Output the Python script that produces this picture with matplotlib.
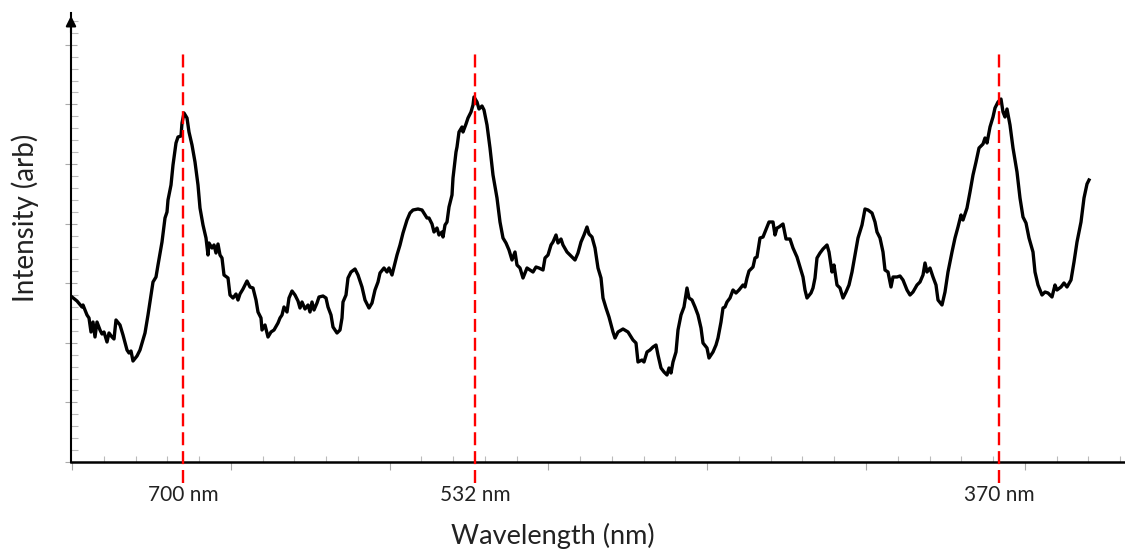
import matplotlib
matplotlib.use('Agg')
from matplotlib import pyplot as plt
from matplotlib.ticker import MultipleLocator, NullFormatter

plt.rcParams['font.family'] = ['Lato', 'DejaVu Sans']

# spectrum (channel position, intensity in arb counts)
channel = [0, 5, 10, 11, 15, 17, 19, 21, 23, 25, 28, 30, 32, 35, 37, 40, 42, 44, 48, 51,
           55, 57, 59, 61, 65, 68, 73, 76, 78, 81, 84, 86, 90, 93, 95, 96, 99, 101, 104, 106,
           109, 110, 112, 115, 117, 120, 123, 126, 128, 131, 134, 136, 137, 140, 142, 144, 146, 148, 150, 152,
           156, 158, 161, 164, 166, 168, 171, 175, 178, 181, 184, 186, 189, 190, 193, 196, 199, 202, 206, 208,
           210, 212, 215, 217, 220, 223, 226, 228, 230, 233, 236, 238, 240, 242, 245, 247, 251, 254, 256, 259,
           261, 265, 268, 270, 271, 274, 276, 279, 283, 286, 290, 293, 297, 300, 303, 306, 308, 312, 315, 317,
           320, 322, 325, 328, 331, 335, 338, 341, 346, 350, 355, 357, 360, 362, 365, 367, 370, 371, 373, 375,
           377, 380, 381, 384, 385, 387, 390, 391, 394, 396, 399, 401, 402, 405, 407, 410, 412, 415, 418, 421,
           425, 428, 431, 434, 437, 440, 443, 445, 448, 451, 455, 458, 461, 464, 467, 471, 473, 476, 479, 481,
           484, 486, 489, 491, 495, 500, 503, 506, 509, 512, 515, 517, 520, 523, 526, 529, 531, 534, 537, 541,
           543, 546, 551, 556, 561, 564, 566, 570, 572, 575, 578, 581, 584, 586, 589, 592, 595, 597, 599, 601,
           604, 606, 609, 612, 615, 617, 620, 623, 626, 629, 631, 635, 637, 641, 644, 646, 649, 651, 653, 655,
           658, 661, 664, 667, 671, 673, 675, 677, 681, 683, 685, 688, 691, 695, 697, 701, 703, 705, 707, 711,
           714, 718, 721, 725, 728, 731, 733, 735, 739, 741, 743, 745, 748, 751, 755, 757, 760, 762, 765, 768,
           771, 774, 777, 780, 783, 786, 790, 793, 796, 800, 803, 805, 808, 811, 813, 816, 819, 821, 825, 828,
           831, 835, 838, 841, 845, 848, 851, 853, 855, 858, 861, 864, 866, 870, 873, 876, 880, 883, 886, 889,
           891, 895, 898, 901, 904, 907, 911, 913, 915, 918, 921, 923, 926, 929, 931, 933, 935, 938, 941, 945,
           948, 951, 954, 957, 961, 963, 966, 970, 973, 976, 980, 983, 985, 989, 992, 995, 999, 1002, 1005, 1009,
           1012, 1015, 1017]
intensity = [165, 161, 155, 157, 147, 144, 130, 140, 125, 140, 132, 128, 130, 120, 129, 125, 123, 142, 137, 127,
             112, 109, 111, 101, 106, 112, 129, 147, 160, 180, 185, 197, 220, 244, 250, 262, 277, 297, 319, 325,
             326, 339, 349, 344, 330, 317, 300, 277, 254, 237, 224, 207, 219, 214, 217, 209, 218, 207, 204, 187,
             184, 167, 164, 168, 162, 168, 173, 181, 175, 174, 162, 150, 144, 132, 137, 125, 130, 132, 139, 144,
             147, 155, 150, 164, 171, 167, 161, 154, 160, 153, 157, 150, 160, 152, 159, 165, 166, 164, 155, 147,
             135, 129, 132, 144, 160, 167, 184, 190, 193, 187, 175, 162, 154, 159, 172, 180, 189, 194, 190, 194,
             187, 195, 207, 217, 229, 242, 249, 252, 253, 252, 244, 244, 238, 230, 234, 227, 230, 225, 237, 240,
             255, 267, 284, 310, 315, 330, 335, 330, 338, 344, 350, 357, 365, 360, 353, 356, 352, 337, 314, 287,
             264, 240, 224, 219, 212, 202, 210, 197, 194, 184, 194, 192, 190, 195, 194, 192, 204, 207, 217, 220,
             227, 219, 223, 217, 210, 205, 202, 209, 220, 227, 235, 228, 225, 214, 194, 184, 164, 154, 145, 130,
             124, 130, 133, 130, 122, 119, 100, 102, 100, 110, 112, 115, 117, 107, 94, 90, 87, 94, 89, 100,
             110, 132, 147, 155, 174, 164, 162, 155, 147, 134, 119, 114, 104, 110, 117, 124, 140, 154, 155, 160,
             164, 172, 169, 172, 177, 175, 184, 191, 195, 204, 205, 224, 225, 235, 240, 240, 227, 234, 235, 238,
             223, 223, 214, 205, 195, 185, 172, 164, 169, 174, 184, 204, 209, 213, 217, 210, 190, 197, 177, 174,
             164, 170, 177, 190, 207, 224, 237, 253, 252, 249, 240, 230, 224, 210, 192, 190, 175, 185, 185, 186,
             182, 172, 167, 170, 177, 180, 187, 199, 190, 194, 185, 177, 162, 157, 170, 190, 210, 224, 235, 247,
             242, 254, 270, 287, 300, 314, 318, 324, 319, 335, 345, 354, 360, 363, 350, 345, 353, 337, 314, 290,
             264, 245, 239, 224, 210, 190, 177, 167, 170, 169, 165, 177, 172, 175, 179, 175, 182, 200, 220, 240,
             264, 278, 282]

# laser lines marked on the trace
line_pos = [111, 403, 927]
line_labels = ['700 nm', '532 nm', '370 nm']

fig = plt.figure(figsize=(11.25, 5.53), dpi=100)
ax = fig.add_axes([71 / 1125, 91 / 553, 1054 / 1125, 449 / 553])

ax.plot(channel, intensity, color='black', lw=2.4, solid_joinstyle='round')

for xp, lab in zip(line_pos, line_labels):
    ax.plot([xp, xp], [-21, 409], color='#ff0000', lw=1.7, dashes=(5.5, 2.5), clip_on=False, zorder=3)
    ax.text(xp, -33, lab, ha='center', va='center', fontsize=15, color='#222222')

ax.set_xlim(-1, 1053)
ax.set_ylim(0, 449)

for s in ['top', 'right']:
    ax.spines[s].set_visible(False)
ax.spines['left'].set_linewidth(1.5)
ax.spines['bottom'].set_linewidth(1.8)

# arrow head on the y axis
ax.annotate('', xy=(0, 1.0), xycoords='axes fraction', xytext=(0, 0.95),
            arrowprops=dict(arrowstyle='-|>', color='black', lw=1.5, mutation_scale=15))

ax.xaxis.set_major_locator(MultipleLocator(158.8))
ax.xaxis.set_minor_locator(MultipleLocator(31.76))
ax.yaxis.set_major_locator(MultipleLocator(59.6))
ax.yaxis.set_minor_locator(MultipleLocator(11.92))
ax.xaxis.set_major_formatter(NullFormatter())
ax.yaxis.set_major_formatter(NullFormatter())
ax.tick_params(axis='x', which='major', direction='out', length=6, width=0.8, color='#aaaaaa')
ax.tick_params(axis='x', which='minor', direction='in', length=4, width=0.8, color='#bbbbbb')
ax.tick_params(axis='y', which='major', direction='inout', length=9, width=0.8, color='#aaaaaa')
ax.tick_params(axis='y', which='minor', direction='in', length=5, width=0.8, color='#bbbbbb')

ax.text(481, -74, 'Wavelength (nm)', ha='center', va='center', fontsize=19.5, color='#222222')
ax.text(-47, 244, 'Intensity (arb)', ha='center', va='center', rotation=90, fontsize=20, color='#222222')

fig.savefig('out.png', dpi=100)
